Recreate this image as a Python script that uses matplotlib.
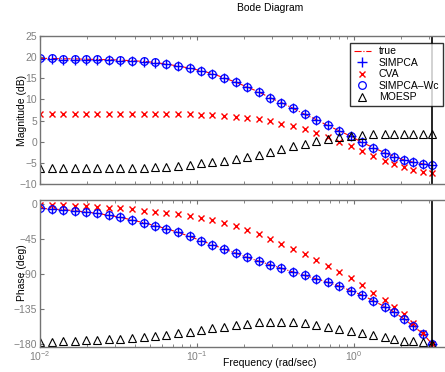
import numpy as np
import matplotlib
matplotlib.use("Agg")
import matplotlib.pyplot as plt
from matplotlib.ticker import FixedLocator, LogLocator, NullFormatter

# ---------- data ----------

freq = [0.0100, 0.01184, 0.01401, 0.01659, 0.01963, 0.02324, 0.02751, 0.03256,
        0.03855, 0.04563, 0.05401, 0.06393, 0.07568, 0.08959, 0.1060, 0.1255,
        0.1486, 0.1759, 0.2083, 0.2465, 0.2917, 0.3453, 0.4088, 0.4839,
        0.5728, 0.6780, 0.8026, 0.9528, 1.125, 1.327, 1.569, 1.806,
        2.082, 2.386, 2.763, 3.1416]
nyquist = 3.1416

true_mag = [19.7, 19.7, 19.6, 19.6, 19.5, 19.45, 19.4, 19.3, 19.15, 19.0, 18.75, 18.35,
            17.9, 17.4, 16.8, 16.1, 15.1, 14.1, 12.95, 11.8, 10.4, 9.25, 7.9, 6.5,
            5.25, 3.85, 2.6, 1.3, -0.15, -1.4, -2.6, -3.5, -4.3, -4.87, -5.26, -5.57]
simpca_mag = [19.5, 19.5, 19.4, 19.4, 19.3, 19.3, 19.25, 19.15, 19.05, 18.9, 18.65, 18.3,
              17.85, 17.4, 16.8, 16.1, 15.1, 14.1, 12.95, 11.8, 10.4, 9.25, 7.9, 6.5,
              5.25, 3.85, 2.6, 1.3, -0.15, -1.4, -2.6, -3.5, -4.3, -4.87, -5.26, -5.57]
wc_mag = [19.7, 19.7, 19.6, 19.6, 19.5, 19.45, 19.4, 19.3, 19.15, 19.0, 18.75, 18.35,
          17.9, 17.4, 16.8, 16.1, 15.1, 14.1, 12.95, 11.8, 10.4, 9.25, 7.9, 6.5,
          5.25, 3.85, 2.6, 1.3, -0.15, -1.4, -2.6, -3.5, -4.3, -4.87, -5.26, -5.57]
cva_mag = [6.6, 6.6, 6.6, 6.6, 6.6, 6.6, 6.6, 6.6, 6.6, 6.6, 6.6, 6.55,
           6.5, 6.45, 6.35, 6.2, 6.05, 5.9, 5.65, 5.35, 5.0, 4.3, 3.65, 2.9,
           2.05, 1.0, 0.0, -1.0, -2.27, -3.45, -4.55, -5.26, -6.05, -6.67, -7.15, -7.3]
moesp_mag = [-6.15, -6.15, -6.15, -6.15, -6.15, -6.15, -6.15, -6.15, -6.15, -6.15, -6.05, -5.9,
             -5.65, -5.4, -5.15, -4.85, -4.5, -4.1, -3.6, -3.06, -2.43, -1.73, -1.02, -0.47,
             0.16, 0.71, 1.1, 1.33, 1.5, 1.73, 1.85, 1.85, 1.85, 1.85, 1.85, 1.85]

true_phase = [-5.6, -6.4, -7.3, -8.6, -10.3, -12.0, -14.6, -17.1, -20.6, -24.0, -27.9, -31.7,
              -36.4, -41.6, -47.1, -52.3, -57.9, -63.0, -68.6, -73.3, -78.0, -82.7, -87.4, -91.7,
              -96.0, -100.7, -105.5, -111.4, -117.0, -124.3, -132.0, -139.3, -147.9, -156.9, -167.1, -180.0]
simpca_phase = true_phase
wc_phase = true_phase
cva_phase = [-0.9, -1.1, -1.5, -2.0, -2.6, -3.4, -4.5, -5.6, -6.9, -8.4, -10.0, -11.4,
             -13.0, -14.8, -17.6, -20.3, -24.2, -28.0, -33.0, -38.6, -44.6, -51.0, -57.4, -64.7,
             -72.0, -79.7, -87.9, -95.6, -104.1, -113.8, -123.0, -132.0, -141.4, -153.4, -166.0, -180.0]
moesp_phase = [-177.3, -176.9, -176.4, -175.9, -175.4, -174.6, -174.0, -173.5, -172.7, -171.4, -170.2, -168.4,
               -166.3, -164.2, -162.0, -160.0, -158.0, -156.0, -154.2, -152.2, -151.6, -151.3, -151.7, -153.0,
               -155.2, -157.7, -160.5, -163.8, -166.2, -168.4, -171.4, -173.6, -175.7, -176.6, -177.4, -179.5]

mag_ticks = [-10, -5, 0, 5, 10, 15, 20, 25]
phase_ticks = [-180, -135, -90, -45, 0]
freq_ticks = [0.01, 0.1, 1.0]
freq_ticklabels = [r"$10^{-2}$", r"$10^{-1}$", r"$10^{0}$"]

# ---------- figure ----------

plt.rcParams["font.family"] = ["Liberation Sans", "DejaVu Sans"]
plt.rcParams["mathtext.fontset"] = "custom"
plt.rcParams["mathtext.rm"] = "Liberation Sans"
plt.rcParams["mathtext.it"] = "Liberation Sans"

W, H = 445, 372
fig = plt.figure(figsize=(W / 100, H / 100), dpi=100)

# axes run past the right edge of the picture like in the original
left, right = 40, 500
ax1 = fig.add_axes([left / W, 1 - 184 / H, (right - left) / W, 148 / H])
ax2 = fig.add_axes([left / W, 1 - 346.5 / H, (right - left) / W, 147 / H])

xmax = 10 ** ((right - 354) / 157.0)
spine_col = "0.45"
tick_col = "0.5"

for ax in (ax1, ax2):
    ax.set_xscale("log")
    ax.set_xlim(0.01, xmax)
    ax.tick_params(which="both", direction="in", top=True, right=True,
                   colors=spine_col, labelcolor=tick_col, labelsize=7.5, pad=2)
    ax.tick_params(which="major", length=3)
    ax.tick_params(which="minor", length=2)
    ax.xaxis.set_minor_locator(LogLocator(base=10, subs=np.arange(2, 10)))
    ax.xaxis.set_minor_formatter(NullFormatter())
    for s in ax.spines.values():
        s.set_color(spine_col)
        s.set_linewidth(1.0)

# magnitude
ax1.plot(freq, true_mag, color="red", ls="-.", lw=0.8, label="true")
ax1.plot(freq, simpca_mag, ls="none", marker="+", ms=6.5, mew=1.0, color="blue", label="SIMPCA")
ax1.plot(freq, cva_mag, ls="none", marker="x", ms=4.2, mew=1.0, color="red", label="CVA")
ax1.plot(freq, wc_mag, ls="none", marker="o", ms=5.5, mew=0.9, mfc="none", color="blue", label="SIMPCA\u2013Wc")
ax1.plot(freq, moesp_mag, ls="none", marker="^", ms=6, mew=0.8, mfc="none", color="black", label="MOESP")
ax1.axvline(nyquist, color="black", lw=1.2)
ax1.set_ylim(-10, 25)
ax1.yaxis.set_major_locator(FixedLocator(mag_ticks))
ax1.set_xticks(freq_ticks)
ax1.set_xticklabels([])
ax1.set_ylabel("Magnitude (dB)", fontsize=7.5)
ax1.yaxis.set_label_coords((27 - left) / (right - left), 0.5)

# phase
ax2.plot(freq, true_phase, color="red", ls="-.", lw=0.8)
ax2.plot(freq, simpca_phase, ls="none", marker="+", ms=6.5, mew=1.0, color="blue")
ax2.plot(freq, cva_phase, ls="none", marker="x", ms=4.2, mew=1.0, color="red")
ax2.plot(freq, wc_phase, ls="none", marker="o", ms=5.5, mew=0.9, mfc="none", color="blue")
ax2.plot(freq, moesp_phase, ls="none", marker="^", ms=6, mew=0.8, mfc="none", color="black")
ax2.axvline(nyquist, color="black", lw=1.2)
ax2.set_ylim(-183.2, 5.8)
ax2.yaxis.set_major_locator(FixedLocator(phase_ticks))
ax2.set_xticks(freq_ticks)
ax2.set_xticklabels(freq_ticklabels)
ax2.set_ylabel("Phase (deg)", fontsize=7.5)
ax2.yaxis.set_label_coords((27 - left) / (right - left), 0.5)

leg = ax1.legend(loc="upper right", bbox_to_anchor=(443 / W, 1 - 42.5 / H),
                 bbox_transform=fig.transFigure, fontsize=7.5, frameon=True,
                 fancybox=False, borderaxespad=0, handlelength=1.6,
                 handletextpad=0.8, labelspacing=0.15, borderpad=0.35)
leg.get_frame().set_edgecolor("black")
leg.get_frame().set_linewidth(1.0)
leg.set_zorder(10)

fig.text(270 / W, 1 - 8 / H, "Bode Diagram", ha="center", va="center", fontsize=7.5)
fig.text(270 / W, 1 - 363 / H, "Frequency (rad/sec)", ha="center", va="center", fontsize=7.5)

fig.savefig("out.png", dpi=100)
